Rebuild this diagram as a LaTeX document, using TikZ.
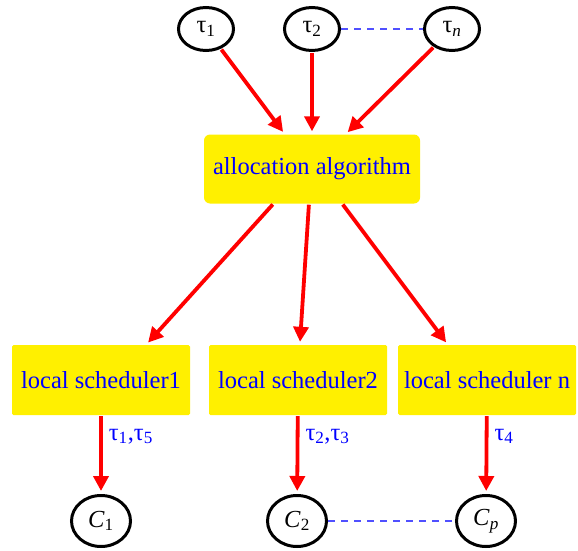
\documentclass[tikz,border=0pt]{standalone}
\usepackage{fontspec}
\setmainfont{Liberation Serif}
\usetikzlibrary{shapes.geometric,arrows.meta}
\definecolor{boxyellow}{RGB}{255,240,0}
\definecolor{textblue}{RGB}{0,0,255}
\definecolor{dashblue}{RGB}{80,80,255}
\tikzset{
  task/.style={draw, ellipse, line width=3pt, minimum width=55pt, minimum height=43pt, inner sep=0pt},
  core/.style={draw, ellipse, line width=3pt, minimum width=59pt, minimum height=51pt, inner sep=0pt},
  algbox/.style={fill=boxyellow, rounded corners=6pt, minimum width=216pt, minimum height=69pt, text=textblue},
  schedbox/.style={fill=boxyellow, rounded corners=1.5pt, minimum width=178pt, minimum height=70pt, text=textblue},
  flow/.style={draw=red, line width=3.8pt, -{Triangle[length=15pt,width=15pt]}, shorten >=3pt, shorten <=1pt},
  link/.style={draw=dashblue, line width=1.3pt, dash pattern=on 7pt off 6pt},
  lbl/.style={text=textblue, right, inner sep=6pt}
}
\begin{document}
\begin{tikzpicture}[x=1pt, y=-1pt, font=\fontsize{24.5}{28}\selectfont]
\useasboundingbox (0,0) rectangle (578,551);

\node[task] (t1) at (206,29) {τ\textsubscript{1}};
\node[task] (t2) at (312,29) {τ\textsubscript{2}};
\node[task] (tn) at (452,29) {τ\textsubscript{\textit{n}}};

\node[algbox] (alloc) at (312,169) {allocation algorithm};

\node[schedbox] (ls1) at (101,380) {local scheduler1};
\node[schedbox] (ls2) at (298,380) {local scheduler2};
\node[schedbox] (ls3) at (487,380) {local scheduler n};

\node[core] (c1) at (101,521) {\textit{C}\textsubscript{1}};
\node[core] (c2) at (297,521) {\textit{C}\textsubscript{2}};
\node[core] (cp) at (486,521) {\textit{C}\textsubscript{\textit{p}}};

\draw[link] (t2)--(tn);
\draw[link] (c2)--(cp);

\draw[flow] (t1)--(alloc.128);
\draw[flow] (t2)--(alloc.north);
\draw[flow] (tn)--(alloc.46);

\draw[flow] (alloc.222.6)--(ls1.38.5);
\draw[flow] (alloc.265)--(ls2.87);
\draw[flow] (alloc.311.5)--(ls3.138.8);

\draw[flow] (ls1)--(c1) node[lbl, pos=0.27] {τ\textsubscript{1},τ\textsubscript{5}};
\draw[flow] (ls2)--(c2) node[lbl, pos=0.27] {τ\textsubscript{2},τ\textsubscript{3}};
\draw[flow] (ls3)--(cp) node[lbl, pos=0.27] {τ\textsubscript{4}};
\end{tikzpicture}
\end{document}
